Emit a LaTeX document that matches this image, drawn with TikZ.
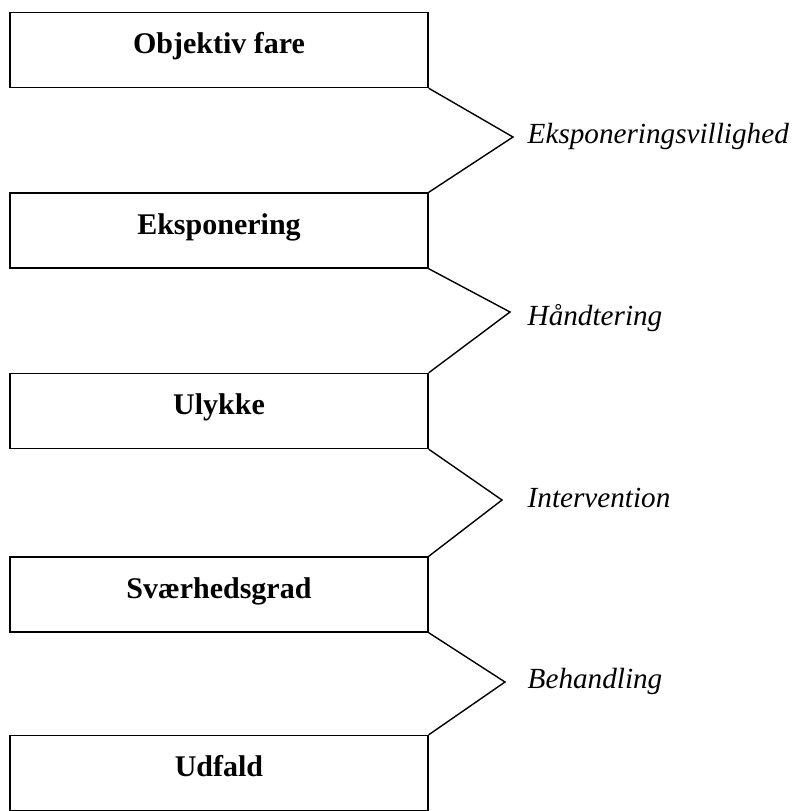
\documentclass[tikz,border=0pt]{standalone}
\usepackage{fontspec}
\setmainfont{Liberation Serif}
\begin{document}
\begin{tikzpicture}[x=0.5pt, y=-0.5pt, line width=0.7pt,
  boks/.style={draw, rectangle, minimum width=209pt, inner sep=0pt, text height=20.5pt, text depth=17pt, font=\bfseries\fontsize{15}{18}\selectfont},
  faktor/.style={anchor=base west, inner sep=0pt, font=\itshape\fontsize{14.6}{17}\selectfont}]
\useasboundingbox (0,0) rectangle (798,811);

\node[boks] (F) at (219,50)  {Objektiv fare};
\node[boks] (E) at (219,230.5) {Eksponering};
\node[boks] (U) at (219,411) {Ulykke};
\node[boks] (S) at (219,594.5) {Sværhedsgrad};
\node[boks] (D) at (219,773) {Udfald};

\coordinate (T1) at (513,137);
\coordinate (T2) at (510,312);
\coordinate (T3) at (502,500);
\coordinate (T4) at (505,682);

\draw (F.south east) -- (T1) -- (E.north east);
\draw (E.south east) -- (T2) -- (U.north east);
\draw (U.south east) -- (T3) -- (S.north east);
\draw (S.south east) -- (T4) -- (D.north east);

\node[faktor] (V) at (527,143) {Eksponeringsvillighed};
\node[faktor] (H) at (527,325) {Håndtering};
\node[faktor] (I) at (527,507) {Intervention};
\node[faktor] (B) at (527,688) {Behandling};
\end{tikzpicture}
\end{document}
